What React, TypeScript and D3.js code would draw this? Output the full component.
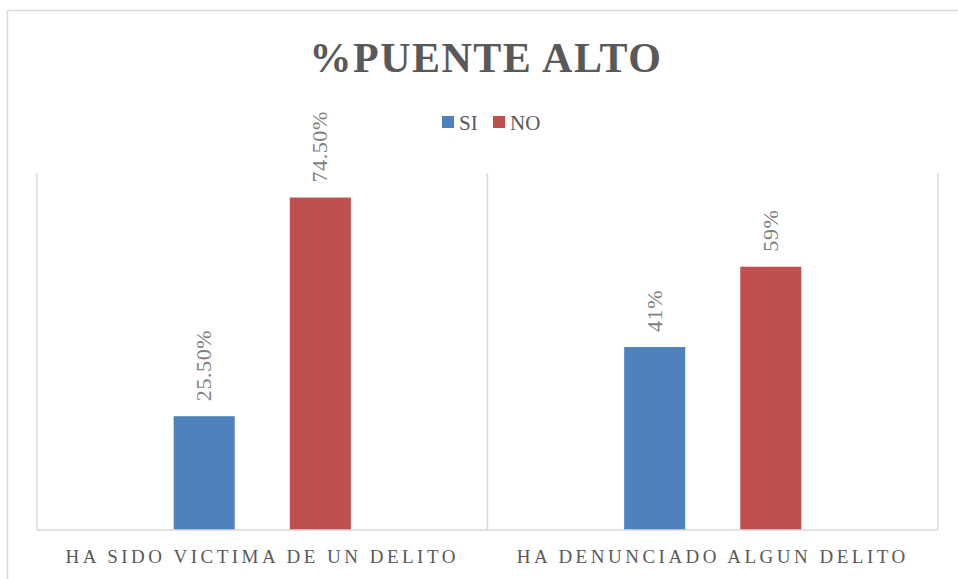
import React from "react";
import * as d3 from "d3";

const categories = ["HA SIDO VICTIMA DE UN DELITO", "HA DENUNCIADO ALGUN DELITO"];
const seriesNames = ["SI", "NO"];
const siValues = [0.255, 0.41];
const noValues = [0.745, 0.59];
const siLabels = ["25.50%", "41%"];
const noLabels = ["74.50%", "59%"];
const colors = ["#4f81bd", "#c0504d"];

const W = 958;
const H = 579;
const serif = "'Liberation Serif', 'DejaVu Serif', serif";

export default function App() {
  const left = 37, right = 938, top = 173, bottom = 530;

  const x0 = d3.scaleBand<string>().domain(categories).range([left, right]);
  const x1 = d3
    .scaleBand<string>()
    .domain(seriesNames)
    .range([0, x0.bandwidth()])
    .paddingInner(0.474)
    .paddingOuter(1.177);
  const y = d3.scaleLinear().domain([0, 0.8]).range([bottom, top]);

  const values = [siValues, noValues];
  const labels = [siLabels, noLabels];

  return (
    <svg width={W} height={H} style={{ position: "absolute", left: 0, top: 0 }}>
      <rect x={0} y={0} width={W} height={H} fill="#fff" />
      {/* chart area border, cropped on the right and bottom */}
      <path d={`M7.5,${H} V10.5 H${W}`} fill="none" stroke="#d9d9d9" strokeWidth={1.5} />

      <text
        x={486}
        y={72}
        textAnchor="middle"
        fontFamily={serif}
        fontWeight="bold"
        fontSize={42}
        letterSpacing={1.5}
        fill="#595959"
      >
        %PUENTE ALTO
      </text>

      {/* legend */}
      {seriesNames.map((s, i) => {
        const lx = i === 0 ? 442 : 493;
        return (
          <g key={s}>
            <rect x={lx} y={116} width={12} height={12} fill={colors[i]} />
            <text x={lx + 17} y={130} fontFamily={serif} fontSize={21} fill="#595959">
              {s}
            </text>
          </g>
        );
      })}

      {/* vertical category gridlines */}
      {[left, x0(categories[1])!, right].map((gx, i) => (
        <line key={i} x1={gx} x2={gx} y1={top} y2={bottom} stroke="#d9d9d9" strokeWidth={1.5} />
      ))}

      {categories.map((c, ci) => (
        <g key={c} transform={`translate(${x0(c)},0)`}>
          {seriesNames.map((s, si) => {
            const v = values[si][ci];
            const bx = x1(s)!;
            const by = y(v);
            return (
              <g key={s}>
                <rect x={bx} y={by} width={x1.bandwidth()} height={bottom - by} fill={colors[si]} />
                <text
                  transform={`translate(${bx + x1.bandwidth() / 2 + 7},${by - 15}) rotate(-90)`}
                  fontFamily={serif}
                  fontSize={22}
                  letterSpacing={0.6}
                  fill="#7f7f7f"
                >
                  {labels[si][ci]}
                </text>
              </g>
            );
          })}
          <text
            x={x0.bandwidth() / 2}
            y={563}
            textAnchor="middle"
            fontFamily={serif}
            fontSize={19}
            letterSpacing={3.5}
            fill="#595959"
          >
            {c}
          </text>
        </g>
      ))}

      <line x1={left} x2={right} y1={bottom} y2={bottom} stroke="#d9d9d9" strokeWidth={1.5} />
    </svg>
  );
}
